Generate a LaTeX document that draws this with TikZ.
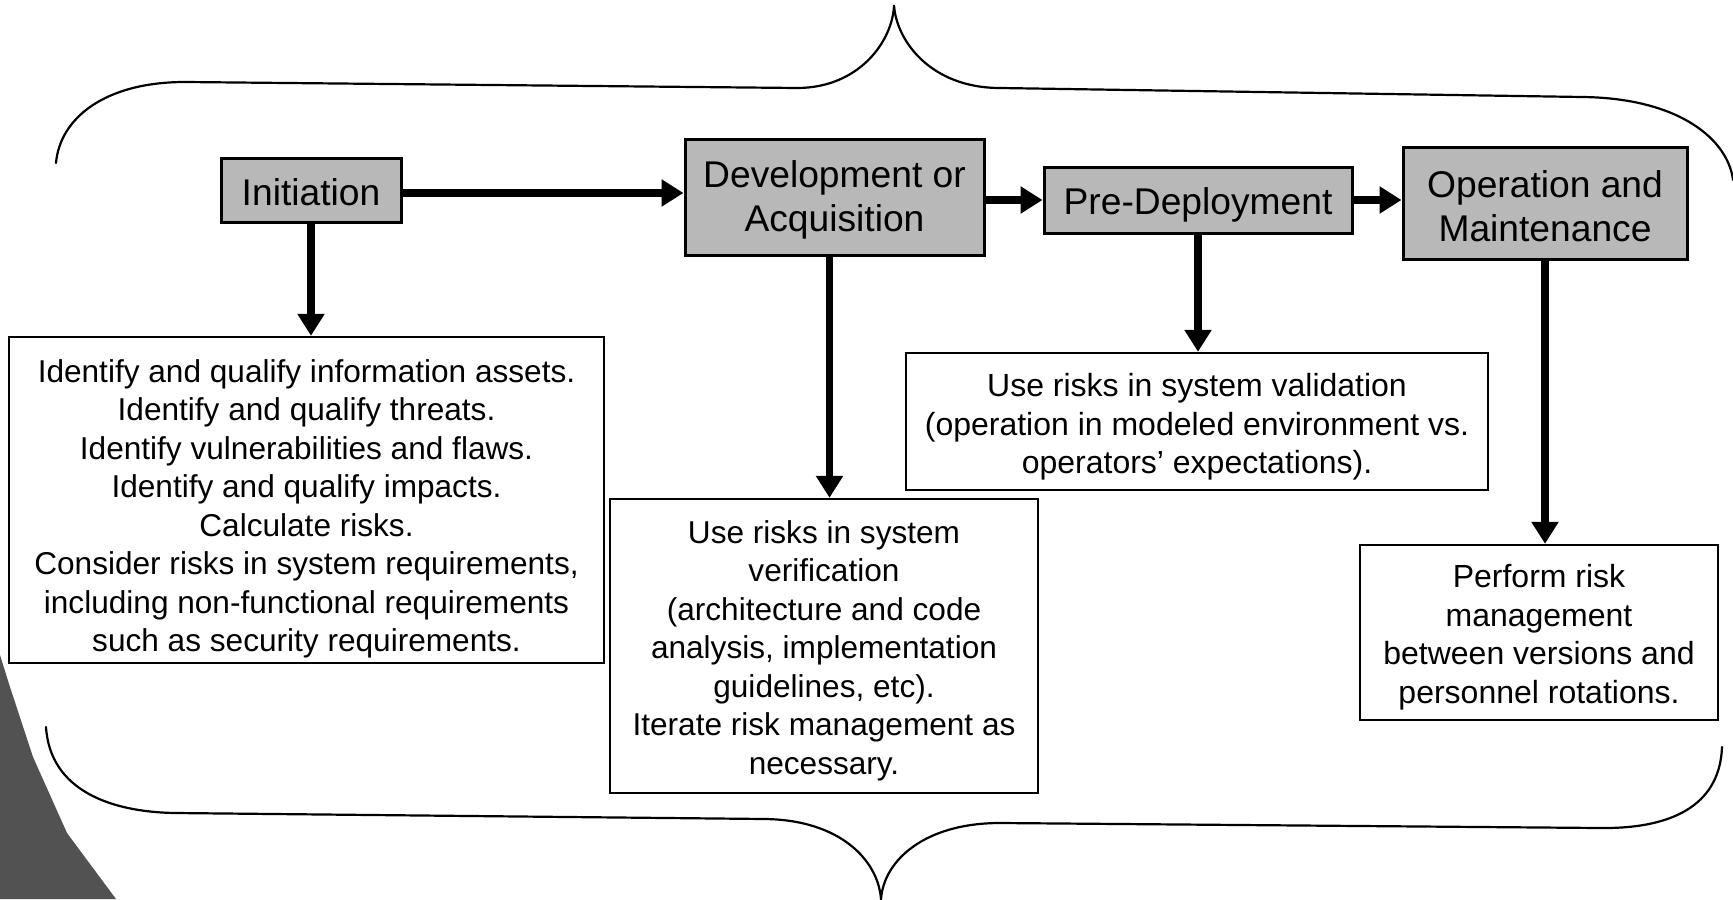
\documentclass[tikz,border=0pt]{standalone}
\usepackage{fontspec}
\setmainfont{Liberation Sans}
\usetikzlibrary{arrows.meta}
\newcommand{\liftby}[1]{\rule{0pt}{#1}}
\tikzset{
  phase/.style={draw=black, line width=1.5pt, fill=black!28, inner sep=0pt, align=center,
    font=\fontsize{18.6}{22}\selectfont},
  detail/.style={draw=black, line width=1.2pt, fill=white, inner sep=0pt, align=center,
    font=\fontsize{16}{19.25}\selectfont},
  lift/.style={execute at begin node={\rule{0pt}{#1}}},
  flow/.style={line width=3.6pt, -{Triangle[length=11pt,width=13pt]}},
  brace/.style={line width=1.1pt, line cap=round},
  shadow/.style={fill=black!68, draw=none}
}
\begin{document}
\begin{tikzpicture}[x=0.5pt,y=-0.5pt]
\useasboundingbox (0,0) rectangle (1733,899);
% scan shadow at bottom left
\fill[shadow] (0,655) -- (10,687) -- (33,757) -- (67,833) -- (116,899) -- (0,899) -- cycle;
% braces
\draw[brace] (56,163) .. controls (60,118) and (105,82) .. (185,82)
  -- (797,88) .. controls (860,88) and (893,40) .. (894,5)
  .. controls (896,40) and (930,88) .. (1000,88)
  -- (1582,97) .. controls (1680,98) and (1728,140) .. (1733,180);
\draw[brace] (46,727) .. controls (50,790) and (110,812) .. (175,813)
  -- (765,819) .. controls (840,820) and (878,860) .. (881,899)
  .. controls (884,860) and (925,823) .. (1000,823)
  -- (1600,828) .. controls (1680,829) and (1720,800) .. (1722,747);
% phase boxes
\node[phase, lift=15.5pt, minimum width=90pt, minimum height=32pt] (init) at (311,190) {Initiation};
\node[phase, minimum width=149.5pt, minimum height=58pt] (dev) at (834.5,197) {\liftby{16.6pt}Development or\\Acquisition};
\node[phase, lift=18.8pt, minimum width=154pt, minimum height=33pt] (pre) at (1198,200) {Pre-Deployment};
\node[phase, minimum width=142pt, minimum height=56pt] (op) at (1545,203) {\liftby{16.9pt}Operation and\\Maintenance};
% detail boxes
\node[detail, font=\fontsize{15.8}{19.25}\selectfont, minimum width=297.5pt, minimum height=163pt] (b1) at (306.5,500) {\liftby{20.5pt}Identify and qualify information assets.\\Identify and qualify threats.\\Identify vulnerabilities and flaws.\\Identify and qualify impacts.\\Calculate risks.\\Consider risks in system requirements,\\including non-functional requirements\\such as security requirements.};
\node[detail, font=\fontsize{15.8}{19.25}\selectfont, minimum width=214pt, minimum height=147pt] (b2) at (824,646) {\liftby{16pt}Use risks in system\\verification\\(architecture and code\\analysis, implementation\\guidelines, etc).\\Iterate risk management as\\necessary.};
\node[detail, minimum width=291pt, minimum height=68.5pt] (b3) at (1197,421.5) {\liftby{17pt}Use risks in system validation\\(operation in modeled environment vs.\\operators' expectations).};
\node[detail, minimum width=179pt, minimum height=87.5pt] (b4) at (1539,632.5) {\liftby{16.5pt}Perform risk\\management\\between versions and\\personnel rotations.};
% flow arrows
\draw[flow] ([yshift=-1.5pt]init.east) -- ([yshift=-1.5pt]init.east -| dev.west);
\draw[flow] (dev.east |- pre.west) -- (pre.west);
\draw[flow] (pre.east) -- (pre.east -| op.west);
\draw[flow] (init.south) -- (init.south |- b1.north);
\draw[flow] ([xshift=-2.5pt]dev.south) -- ([xshift=-2.5pt]dev.south |- b2.north);
\draw[flow] (pre.south) -- (pre.south |- b3.north);
\draw[flow] (op.south) -- (op.south |- b4.north);
\end{tikzpicture}
\end{document}
